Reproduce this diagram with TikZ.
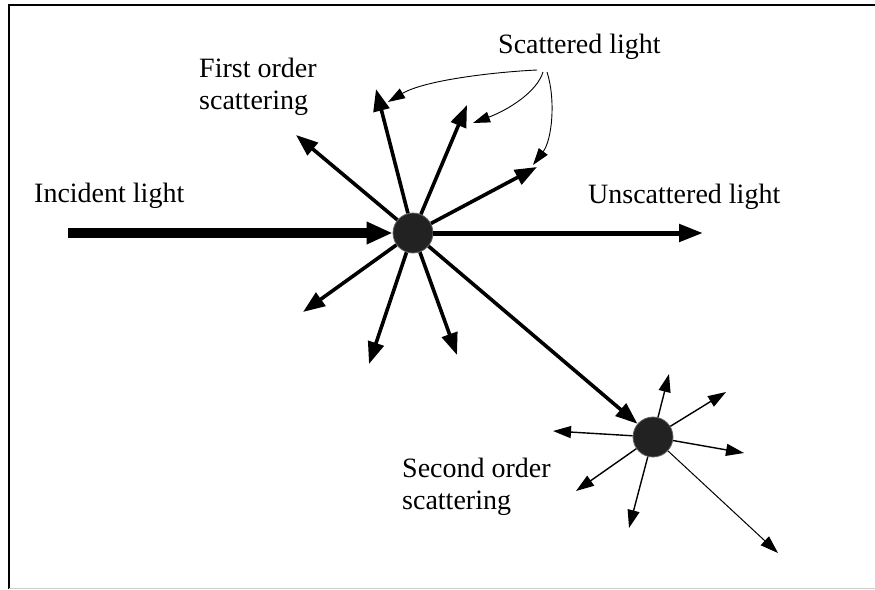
\documentclass[tikz,border=0pt]{standalone}
\usepackage{fontspec}
\setmainfont{Liberation Serif}
\usetikzlibrary{arrows.meta}

\definecolor{particle}{RGB}{34,34,34}

\begin{document}
\begin{tikzpicture}[x=1pt,y=-1pt,
  label/.style={inner sep=0pt,font=\fontsize{28}{32}\selectfont},
  dot/.style={circle,fill=particle,draw=particle!70,line width=0.8pt,minimum size=40pt,inner sep=0pt},
  beam/.style={line width=10pt,-{Triangle[length=26pt,width=21pt]}},
  straight/.style={line width=5pt,-{Triangle[length=24pt,width=17pt]}},
  ray/.style={line width=3.6pt,-{Triangle[length=22pt,width=16pt]}},
  weakray/.style={line width=1.4pt,-{Triangle[length=18pt,width=12pt]}},
  pointer/.style={line width=0.9pt,-{Triangle[length=17pt,width=11pt]}}]

% page and frame
\useasboundingbox (0,0) rectangle (875,589);
\draw[line width=2pt] (9,589) -- (9,5) -- (875,5);
\draw[line width=1pt,black!20] (9,588) -- (875,588);

% particles
\node[dot] (p1) at (413,233) {};
\node[dot] (p2) at (653,437) {};

% labels
\node[label,anchor=base west] (inc) at (34,202) {Incident light};
\node[label,anchor=base west] (uns) at (588,203) {Unscattered light};
\node[label,anchor=base west] (sca) at (498,53) {Scattered light};
\node[label,anchor=north west,align=left] (first) at (199,58) {First order\\scattering};
\node[label,anchor=north west,align=left] (second) at (402,458) {Second order\\scattering};

% incident and transmitted beams
\coordinate (src) at (68,233);
\coordinate (out) at (703,233);
\draw[beam] (src) -- (p1);
\draw[straight] (p1) -- (out);

% first order scattered rays
\coordinate (r1) at (296,135);
\coordinate (r2) at (376,89);
\coordinate (r3) at (467,105);
\coordinate (r4) at (537,167);
\coordinate (r5) at (303,312);
\coordinate (r6) at (369,364);
\coordinate (r7) at (457,355);
\foreach \r in {r1,r2,r3,r4,r5,r6,r7}
  \draw[ray] (p1) -- (\r);
\draw[ray] (p1) -- (p2);

% second order scattered rays
\coordinate (s1) at (669,374);
\coordinate (s2) at (726,392);
\coordinate (s3) at (744,453);
\coordinate (s4) at (553,431);
\coordinate (s5) at (576,491);
\coordinate (s6) at (629,528);
\coordinate (s7) at (778,553);
\foreach \s in {s1,s2,s3,s4,s5,s6}
  \draw[weakray] (p2) -- (\s);
\draw[weakray,line width=1pt] (p2) -- (s7);

% pointers from the scattered light label
\coordinate (a1) at (537,70);
\coordinate (a2) at (543,72);
\coordinate (a3) at (547,72);
\coordinate (t1) at (388,102);
\coordinate (t2) at (473,123);
\coordinate (t3) at (533,165);
\draw[pointer] (a1) .. controls (495,72) and (425,80) .. (t1);
\draw[pointer] (a2) .. controls (537,92) and (508,110) .. (t2);
\draw[pointer] (a3) .. controls (556,100) and (552,140) .. (t3);
\end{tikzpicture}
\end{document}
